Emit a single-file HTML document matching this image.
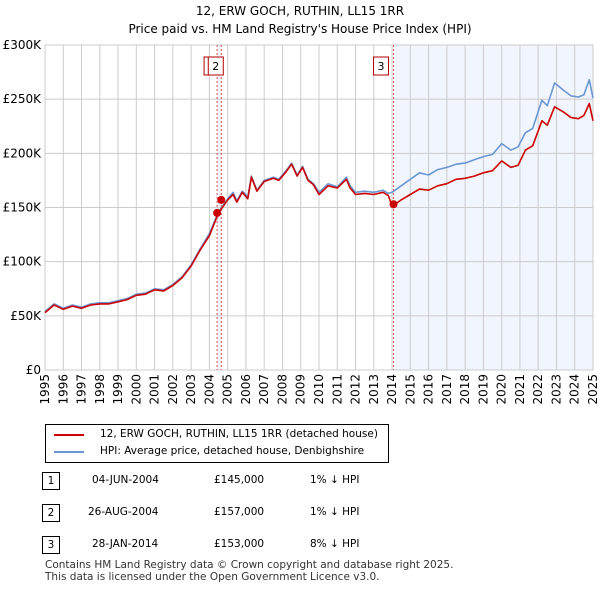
<!DOCTYPE html>
<html><head><meta charset="utf-8"><style>
body{margin:0;background:#fff;font-family:"DejaVu Sans","Liberation Sans",sans-serif;}
#wrap{position:relative;width:600px;height:590px;overflow:hidden;}
.t{position:absolute;font-size:11px;color:#000;white-space:nowrap;}
svg text{font-family:"DejaVu Sans","Liberation Sans",sans-serif;}
</style></head><body><div id="wrap">
<svg id="chart" width="600" height="410" style="position:absolute;left:0;top:0">
<text x="300" y="15" text-anchor="middle" font-size="12">12, ERW GOCH, RUTHIN, LL15 1RR</text>
<text x="300" y="33" text-anchor="middle" font-size="12">Price paid vs. HM Land Registry's House Price Index (HPI)</text>
</svg>
<div style="position:absolute;left:45px;top:424px;width:342px;height:37px;border:1px solid #000;">
<svg width="40" height="37" style="position:absolute;left:0;top:0"><line x1="8" y1="10" x2="38" y2="10" stroke="#cc0000" stroke-width="2"/><line x1="8" y1="27" x2="38" y2="27" stroke="#6a97d4" stroke-width="2"/></svg>
<div class="t" style="left:54px;top:3px;font-size:10.5px">12, ERW GOCH, RUTHIN, LL15 1RR (detached house)</div>
<div class="t" style="left:54px;top:20px;font-size:10.5px">HPI: Average price, detached house, Denbighshire</div>
</div>
<div>
<div class="t" style="left:42px;top:472px;width:16px;height:16px;border:1px solid #000;text-align:center;font-size:10.5px;line-height:16px">1</div>
<div class="t" style="left:92px;top:474px;font-size:10.5px">04-JUN-2004</div><div class="t" style="left:214px;top:474px;font-size:10.5px">£145,000</div><div class="t" style="left:310px;top:474px;font-size:10.5px">1% ↓ HPI</div>
<div class="t" style="left:42px;top:504px;width:16px;height:16px;border:1px solid #000;text-align:center;font-size:10.5px;line-height:16px">2</div>
<div class="t" style="left:88px;top:506px;font-size:10.5px">26-AUG-2004</div><div class="t" style="left:214px;top:506px;font-size:10.5px">£157,000</div><div class="t" style="left:310px;top:506px;font-size:10.5px">1% ↓ HPI</div>
<div class="t" style="left:42px;top:536px;width:16px;height:16px;border:1px solid #000;text-align:center;font-size:10.5px;line-height:16px">3</div>
<div class="t" style="left:92px;top:538px;font-size:10.5px">28-JAN-2014</div><div class="t" style="left:214px;top:538px;font-size:10.5px">£153,000</div><div class="t" style="left:310px;top:538px;font-size:10.5px">8% ↓ HPI</div>
</div>
<div class="t" style="left:45px;top:559px;font-size:10.5px;color:#333">Contains HM Land Registry data © Crown copyright and database right 2025.</div>
<div class="t" style="left:45px;top:571px;font-size:10.5px;color:#333">This data is licensed under the Open Government Licence v3.0.</div>
</div>
<script>
const hpiT=[1995,1995.5,1996,1996.5,1997,1997.5,1998,1998.5,1999,1999.5,2000,2000.5,2001,2001.5,2002,2002.5,2003,2003.5,2004,2004.5,2005,2005.3,2005.5,2005.8,2006.1,2006.3,2006.6,2007,2007.5,2007.8,2008.2,2008.5,2008.8,2009.1,2009.4,2009.7,2010,2010.5,2011,2011.5,2011.7,2012,2012.5,2013,2013.5,2013.8,2014,2014.5,2015,2015.5,2016,2016.5,2017,2017.5,2018,2018.5,2019,2019.5,2020,2020.5,2020.9,2021.3,2021.7,2022.2,2022.5,2022.9,2023.4,2023.8,2024.2,2024.5,2024.8,2025];
const hpiV=[54,61,57,60,58,61,62,62,64,66,70,71,75,74,79,86,97,112,126,146,158,164,156,165,160,179,166,175,178,176,184,191,180,188,176,172,164,172,169,178,170,164,165,164,166,163,164,170,176,182,180,185,187,190,191,194,197,199,209,203,206,219,223,249,244,265,258,253,252,254,268,251];
const ppT=hpiT;
const ppV=[53,60,56,59,57,60,61,61,63,65,69,70,74,73,78,85,96,111,124,145,157,162,155,164,158,178,165,174,177,175,183,190,179,187,175,171,162,170,168,176,168,162,163,162,164,161,151,157,162,167,166,170,172,176,177,179,182,184,193,187,189,203,207,230,226,243,238,233,232,235,246,230];
const sales=[[2004.42,145],[2004.65,157],[2014.08,153]];
const yTicks=[0,50,100,150,200,250,300];
const xTicks=[1995,1996,1997,1998,1999,2000,2001,2002,2003,2004,2005,2006,2007,2008,2009,2010,2011,2012,2013,2014,2015,2016,2017,2018,2019,2020,2021,2022,2023,2024,2025];
const svg=document.getElementById('chart');const NS='http://www.w3.org/2000/svg';
const L=45,R=593,T=45,B=370;
const X=t=>L+(t-1995)/30*(R-L);const Y=v=>B-v/300*(B-T);
function mk(tag,a){const e=document.createElementNS(NS,tag);for(const k in a)e.setAttribute(k,a[k]);svg.appendChild(e);return e;}
let sh=mk('rect',{x:X(sales[2][0]),y:T,width:R-X(sales[2][0]),height:B-T,fill:'#eef3fc',opacity:0.8});


let sh2=mk('rect',{x:X(sales[0][0]),y:T,width:X(sales[1][0])-X(sales[0][0]),height:B-T,fill:'#eef3fc'});


yTicks.forEach(v=>{const g=mk('line',{x1:L,x2:R,y1:Y(v),y2:Y(v),stroke:'#ccc'});


const tx=mk('text',{x:L-4,y:Y(v)+4,'text-anchor':'end','font-size':12});tx.textContent='£'+(v?v+'K':'0');

});
xTicks.forEach(t=>{const g=mk('line',{x1:X(t),x2:X(t),y1:T,y2:B,stroke:'#ccc'});


const tx=mk('text',{x:X(t)+4,y:B+4,'text-anchor':'end','font-size':12,transform:`rotate(-90 ${X(t)+4} ${B+4})`});tx.textContent=t;

});
const frame=mk('rect',{x:L,y:T,width:R-L,height:B-T,fill:'none',stroke:'#ccc'});


sales.forEach((s,i)=>{const l=mk('line',{x1:X(s[0]),x2:X(s[0]),y1:T,y2:B,stroke:'#e05050','stroke-dasharray':'2,2'});

});
function path(ts,vs,c,name){let d='';ts.forEach((t,i)=>{d+=(i?'L':'M')+X(t).toFixed(1)+','+Y(vs[i]).toFixed(1);});
const p=mk('path',{d:d,fill:'none',stroke:c,'stroke-width':1.6,'stroke-linejoin':'round'});

}
path(hpiT,hpiV,'#6a97d4','hpi-line');
path(ppT,ppV,'#cc0000','price-paid-line');
sales.forEach((s,i)=>{const c=mk('circle',{cx:X(s[0]),cy:Y(s[1]),r:4,fill:'#cc0000'});

});
const boxes=[[1,X(sales[0][0])-6],[2,X(sales[1][0])-6],[3,X(sales[2][0])-13]];
boxes.forEach(b=>{const r=mk('rect',{x:b[1]-7,y:57,width:15,height:18,fill:'#fff',stroke:'#b00000'});


const tx=mk('text',{x:b[1]+0.5,y:70,'text-anchor':'middle','font-size':11});tx.textContent=b[0];

});
</script></body></html>
